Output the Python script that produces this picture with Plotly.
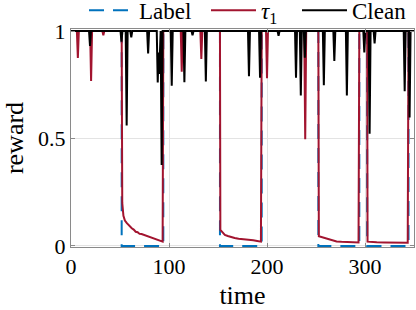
import plotly.graph_objects as go

# ---- data ----
label_t = [0, 51.7, 51.7, 94.2, 94.2, 152, 152, 194.6, 194.6, 252.4, 252.4, 294.2, 294.2, 302.2, 302.2, 344.4, 344.4, 350]
label_v = [1, 1, 0, 0, 1, 1, 0, 0, 1, 1, 0, 0, 1, 1, 0, 0, 1, 1]

tau_t = [0, 6, 7, 8, 19.5, 20.5, 21.5, 32, 33, 34,
         51.7, 52.3, 53.5, 55, 57, 58.5, 60, 62, 64, 66, 68, 70, 72, 75, 78, 80, 83, 85, 88, 90, 92, 93.5,
         94.2, 112, 113, 114, 132, 133, 134,
         152, 152.4, 155, 157, 160, 163, 167, 171, 175, 181, 186, 190, 193.8,
         194.6, 199, 200, 201, 238, 239, 240,
         252.4, 252.9, 256, 258, 261, 264, 268, 271, 276, 282, 288, 293.4,
         294.2, 302.2, 302.6, 306, 312, 320, 328, 336, 343.6,
         344.4, 350]
tau_v = [1, 1, 0.875, 1, 1, 0.767, 1, 1, 0.98, 1,
         1, 0.2, 0.14, 0.118, 0.106, 0.098, 0.092, 0.082, 0.076, 0.066, 0.064, 0.056, 0.055, 0.05, 0.045, 0.043, 0.037, 0.035, 0.029, 0.028, 0.023, 0.02,
         1, 1, 0.81, 1, 1, 0.87, 1,
         1, 0.075, 0.062, 0.051, 0.046, 0.041, 0.037, 0.033, 0.032, 0.028, 0.026, 0.023, 0.02,
         1, 1, 0.78, 1, 1, 0.496, 1,
         1, 0.045, 0.041, 0.036, 0.031, 0.028, 0.023, 0.021, 0.019, 0.018, 0.017, 0.016,
         1, 1, 0.02, 0.018, 0.017, 0.016, 0.016, 0.015, 0.015,
         1, 1]

clean_t = [0, 18.4, 19.4, 20.4, 50.5, 51.5, 52.5, 55.8, 56.8, 57.8, 60.5, 61.5, 62.5,
           77.7, 78.7, 79.7, 87.5, 88.5, 89.3, 90, 91.5, 92.5, 93.5,
           101.8, 102.8, 103.8, 114.7, 115.7, 116.7, 123, 124, 125, 136.6, 137.6, 138.6,
           180.6, 181.6, 182.6, 191.9, 192.9, 193.9, 210.8, 211.8, 212.8,
           228.6, 229.6, 230.6, 233.5, 234.5, 235.5, 237.6, 238.6, 239.6,
           257, 258, 259, 267.7, 268.7, 269.7, 280.5, 281.5, 282.5,
           298.3, 299.3, 300.3, 303.7, 304.7, 305.7, 308.8, 309.8, 310.8,
           339.5, 340.5, 341.5, 344.5, 345.5, 346.5, 350]
clean_v = [1, 1, 0.93, 1, 1, 0.95, 1, 1, 0.56, 1, 1, 0.97, 1,
           1, 0.895, 1, 1, 0.76, 0.9, 0.8, 1, 0.377, 1,
           1, 0.745, 1, 1, 0.762, 1, 1, 0.98, 1, 1, 0.765, 1,
           1, 0.79, 1, 1, 0.783, 1, 1, 0.978, 1,
           1, 0.782, 1, 1, 0.70, 1, 1, 0.876, 1,
           1, 0.748, 1, 1, 0.861, 1, 1, 0.70, 1,
           1, 0.90, 1, 1, 0.522, 1, 1, 0.942, 1,
           1, 0.72, 1, 1, 0.597, 1, 1]

x_ticks = [0, 100, 200, 300]
y_ticks = [0, 0.5, 1]
y_tick_text = ["0", "0.5", "1"]

FONT = "Liberation Serif"
AXIS_COLOR = "#8a8a8a"
GRID_COLOR = "#e3e3e3"
W, H = 416, 310

fig = go.Figure()
fig.add_trace(go.Scatter(x=label_t, y=label_v, mode="lines", name="Label", legend="legend",
                         line=dict(color="#0072BD", width=2, dash="15px,9px")))
fig.add_trace(go.Scatter(x=tau_t, y=tau_v, mode="lines", name="<i>τ</i><sub>1</sub>",
                         legend="legend2", line=dict(color="#A2142F", width=2)))
fig.add_trace(go.Scatter(x=clean_t, y=clean_v, mode="lines", name="Clean", legend="legend3",
                         line=dict(color="#000000", width=2)))


def leg(x_px):
    return dict(orientation="h", x=x_px / W, xanchor="left", xref="container",
                y=0.967, yanchor="middle", yref="container",
                bgcolor="rgba(0,0,0,0)", borderwidth=0,
                font=dict(family=FONT, size=23), itemwidth=45)


fig.update_layout(
    width=W, height=H,
    margin=dict(l=71, r=2, t=29, b=63, autoexpand=False),
    paper_bgcolor="white", plot_bgcolor="white",
    font=dict(family=FONT, size=22, color="#000000"),
    showlegend=True,
    legend=leg(84), legend2=leg(206), legend3=leg(297),
    xaxis=dict(range=[0, 350], tickvals=x_ticks, ticks="inside", ticklen=4,
               tickcolor=AXIS_COLOR, showline=True, linecolor=AXIS_COLOR, linewidth=1,
               mirror="ticks", showgrid=True, gridcolor=GRID_COLOR, zeroline=False,
               automargin=False, tickfont=dict(family=FONT, size=22),
               title=dict(text="time", font=dict(family=FONT, size=26), standoff=7)),
    yaxis=dict(range=[-0.005, 1.0093], tickvals=y_ticks, ticktext=y_tick_text, ticks="inside",
               ticklen=4, tickcolor=AXIS_COLOR, showline=True, linecolor=AXIS_COLOR,
               linewidth=1, mirror="ticks", showgrid=True, gridcolor=GRID_COLOR,
               zeroline=False, automargin=False, tickfont=dict(family=FONT, size=22),
               title=dict(text="reward", font=dict(family=FONT, size=26), standoff=6)),
)

fig.write_html("out.html", config={"displayModeBar": False},
               post_script="document.body.style.margin='0px';")
